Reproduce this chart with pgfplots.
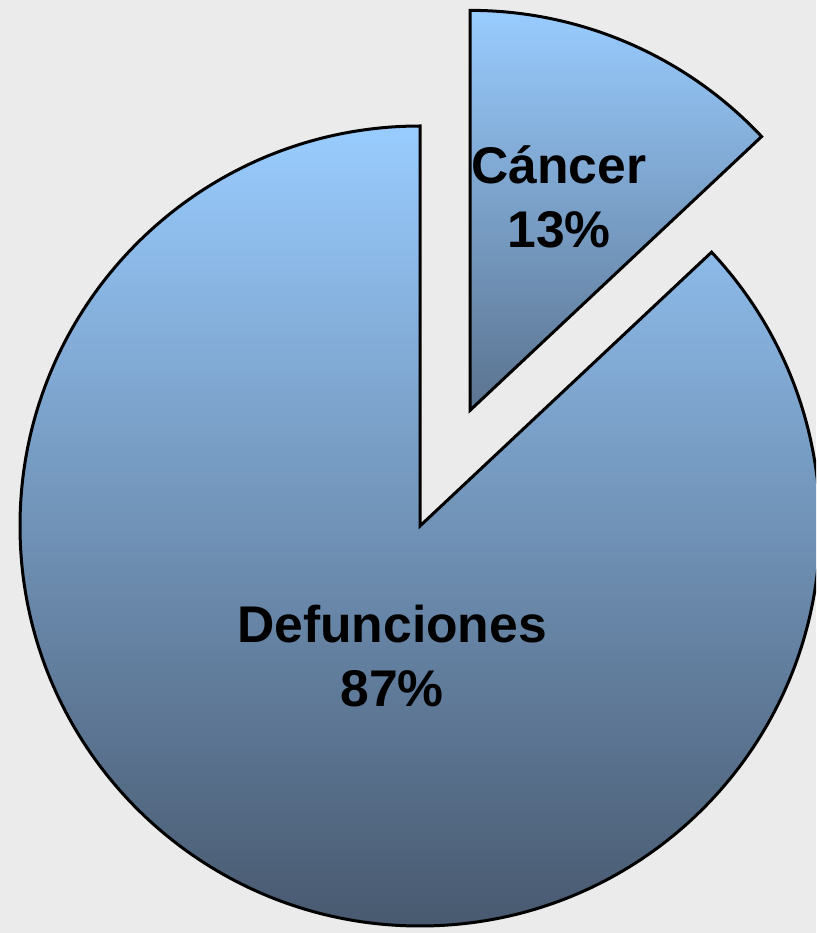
\documentclass[border=0pt]{standalone}
\usepackage{pgfplots}
\usepackage{pgfplotstable}
\pgfplotsset{compat=1.18}
\usepackage{fontspec}
\setmainfont{Liberation Sans}
\definecolor{bgc}{HTML}{EBEBEB}
\definecolor{ctop}{HTML}{99CCFF}
\definecolor{cbot}{HTML}{48596F}
\pgfplotstableread[col sep=comma]{
label,value
Cancer,13
Defunciones,87
}\piedata
\pgfplotstablegetelem{0}{value}\of\piedata \let\vc\pgfplotsretval
\pgfplotstablegetelem{1}{value}\of\piedata \let\vd\pgfplotsretval
\pgfmathsetmacro\aCend{90-\vc*3.6}
\pgfmathsetmacro\aDend{90+\vd*3.6}
\pgfmathsetmacro\aMid{90-\vc*1.8}
\begin{document}
\begin{tikzpicture}
\begin{axis}[x=0.5pt,y=0.5pt,xmin=0,xmax=816,ymin=0,ymax=933,hide axis,clip=true]
\fill[bgc] (axis cs:0,0) rectangle (axis cs:816,933);
% main slice: Defunciones
\draw[top color=ctop,bottom color=cbot,line width=1.5pt,line join=miter]
  (axis cs:420,407) -- ++(90:200pt) arc[start angle=90,end angle=\aDend,radius=200pt] -- cycle;
% exploded slice: Cancer
\draw[top color=ctop,bottom color=cbot,line width=1.5pt,line join=miter]
  (axis cs:420,407) ++(\aMid:63pt) -- ++(90:200pt) arc[start angle=90,end angle=\aCend,radius=200pt] -- cycle;
\node[align=center,font=\fontsize{25.8}{32}\selectfont\bfseries] at (axis cs:559,736) {Cáncer\\13\%};
\node[align=center,font=\fontsize{25.8}{32}\selectfont\bfseries] at (axis cs:392,277) {Defunciones\\87\%};
\end{axis}
\end{tikzpicture}
\end{document}
